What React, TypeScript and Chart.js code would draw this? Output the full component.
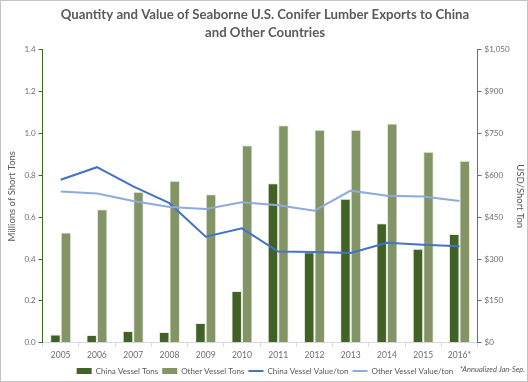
import React, { useEffect, useRef } from "react";
import { Chart, registerables } from "chart.js";

Chart.register(...registerables);

const years = ["2005", "2006", "2007", "2008", "2009", "2010", "2011", "2012", "2013", "2014", "2015", "2016*"];
const chinaTons = [0.04, 0.037, 0.056, 0.051, 0.095, 0.247, 0.762, 0.433, 0.688, 0.571, 0.449, 0.52];
const otherTons = [0.527, 0.638, 0.721, 0.774, 0.71, 0.944, 1.039, 1.018, 1.018, 1.047, 0.912, 0.869];
const chinaValue = [584, 629, 560, 500, 380, 410, 327, 325, 322, 358, 351, 346];
const otherValue = [542, 535, 508, 486, 479, 503, 493, 473, 545, 527, 524, 508];

const titleLines = ["Quantity and Value of Seaborne U.S. Conifer Lumber Exports to China", "and Other Countries"];
const footnote = "*Annualized Jan-Sep.";

const FONT = "Lato, 'Open Sans', sans-serif";
const GRAY = "#595959";
const TICK_GRAY = "#6e6e6e";

export default function App() {
  const ref = useRef<HTMLCanvasElement | null>(null);

  useEffect(() => {
    if (!ref.current) return;
    const footnotePlugin = {
      id: "footnote",
      afterDraw(chart: any) {
        const ctx = chart.ctx;
        ctx.save();
        ctx.font = `italic 7.5px ${FONT}`;
        ctx.fillStyle = GRAY;
        ctx.textAlign = "right";
        ctx.textBaseline = "middle";
        ctx.fillText(footnote, chart.width - 2, 369);
        ctx.restore();
      },
    };
    const chart = new Chart(ref.current, {
      type: "bar",
      data: {
        labels: years,
        datasets: [
          {
            type: "bar",
            label: "China Vessel Tons",
            data: chinaTons,
            backgroundColor: "#426127",
            borderColor: "rgba(230,235,220,0.9)",
            borderWidth: 1,
            yAxisID: "y",
            order: 2,
            barPercentage: 1,
            categoryPercentage: 0.58,
          },
          {
            type: "bar",
            label: "Other Vessel Tons",
            data: otherTons,
            backgroundColor: "#839566",
            borderColor: "rgba(230,235,220,0.9)",
            borderWidth: 1,
            yAxisID: "y",
            order: 2,
            barPercentage: 1,
            categoryPercentage: 0.58,
          },
          {
            type: "line",
            label: "China Vessel Value/ton",
            data: chinaValue,
            borderColor: "#4472C4",
            backgroundColor: "#4472C4",
            borderWidth: 2,
            pointRadius: 0,
            tension: 0,
            yAxisID: "y1",
            order: 1,
          },
          {
            type: "line",
            label: "Other Vessel Value/ton",
            data: otherValue,
            borderColor: "#8FAADC",
            backgroundColor: "#8FAADC",
            borderWidth: 2,
            pointRadius: 0,
            tension: 0,
            yAxisID: "y1",
            order: 0,
          },
        ],
      },
      options: {
        responsive: false,
        animation: false,
        layout: { padding: { left: 1, right: -1, top: 0, bottom: -4 } },
        plugins: {
          tooltip: { enabled: false },
          title: {
            display: true,
            text: titleLines,
            color: GRAY,
            font: { family: FONT, size: 13.2, weight: "bold", lineHeight: 1.35 },
            padding: { top: 5, bottom: 8 },
          },
          legend: {
            position: "bottom",
            labels: {
              color: GRAY,
              font: { family: FONT, size: 8 },
              usePointStyle: true,
              pointStyleWidth: 15,
              boxWidth: 15,
              boxHeight: 6,
              padding: 4,
              generateLabels(chart: any) {
                const items = Chart.defaults.plugins.legend.labels.generateLabels(chart);
                items.sort((a: any, b: any) => a.datasetIndex - b.datasetIndex);
                return items.map((it: any) => {
                  const ds = chart.data.datasets[it.datasetIndex];
                  if (ds.type === "line") {
                    return { ...it, pointStyle: "line", strokeStyle: ds.borderColor, lineWidth: 2, fontColor: GRAY };
                  }
                  return { ...it, pointStyle: "rect", fillStyle: ds.backgroundColor, strokeStyle: ds.backgroundColor, lineWidth: 0, fontColor: GRAY };
                });
              },
            },
          },
        },
        scales: {
          x: {
            grid: { display: true, drawOnChartArea: false, color: "#d9d9d9", tickLength: 4, offset: true },
            border: { color: "#d9d9d9" },
            ticks: { color: TICK_GRAY, font: { family: FONT, size: 8.5 }, maxRotation: 0, padding: 3 },
          },
          y: {
            position: "left",
            min: 0,
            max: 1.4,
            grid: { display: true, drawOnChartArea: false, color: "#3b6b1f", tickLength: 4 },
            border: { color: "#3b6b1f", width: 1 },
            ticks: {
              stepSize: 0.2,
              color: TICK_GRAY,
              font: { family: FONT, size: 8 },
              callback: (v: any) => Number(v).toFixed(1),
            },
            title: { display: true, text: "Millions of Short Tons", color: GRAY, font: { family: FONT, size: 9.5 } },
          },
          y1: {
            position: "right",
            min: 0,
            max: 1050,
            grid: { display: true, drawOnChartArea: false, color: "#4472C4", tickLength: 4 },
            border: { color: "#4472C4", width: 1 },
            ticks: {
              stepSize: 150,
              color: TICK_GRAY,
              font: { family: FONT, size: 8 },
              callback: (v: any) => "$" + Number(v).toLocaleString("en-US"),
            },
            title: { display: true, text: "USD/Short Ton", color: GRAY, font: { family: FONT, size: 9.5 }, padding: { top: 2, bottom: 2 } },
          },
        },
      },
      plugins: [footnotePlugin],
    } as any);
    return () => chart.destroy();
  }, []);

  return (
    <div
      style={{
        position: "fixed",
        left: 0,
        top: 0,
        width: 528,
        height: 382,
        border: "1px solid #c4c4c4",
        boxSizing: "border-box",
        background: "#fff",
      }}
    >
      <canvas ref={ref} width={526} height={380} style={{ display: "block" }} />
    </div>
  );
}
